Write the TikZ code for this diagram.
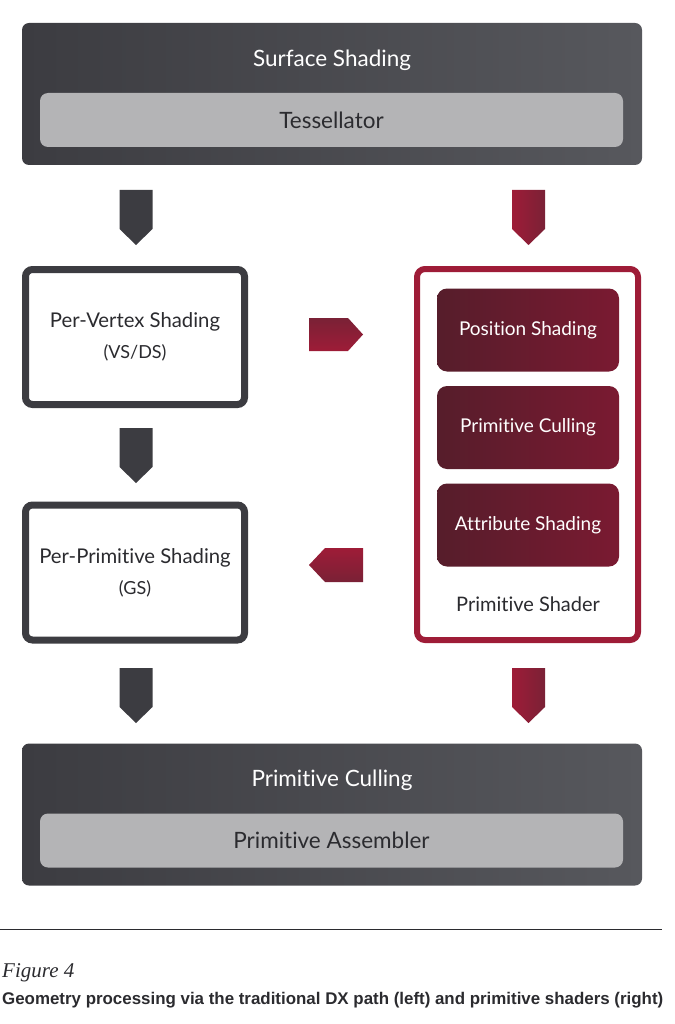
\documentclass[tikz,border=0pt]{standalone}
\usepackage{fontspec}
\setmainfont{Lato}[Ligatures=NoCommon]
\newfontfamily\capfont{Liberation Serif}
\newfontfamily\capsans{Liberation Sans}

\definecolor{slate}{HTML}{3C3C41}
\definecolor{slatelight}{HTML}{57585D}
\definecolor{barfill}{HTML}{B4B4B6}
\definecolor{wine}{HTML}{9E1C37}
\definecolor{winedeep}{HTML}{7A2136}
\definecolor{maroondark}{HTML}{561D2B}
\definecolor{maroonlight}{HTML}{7A1A31}
\definecolor{ink}{HTML}{2B2B2F}

\begin{document}
\begin{tikzpicture}[x=1pt, y=-1pt,
    stagebox/.style={rounded corners=7pt, left color=slate, right color=slatelight, minimum width=620pt, minimum height=142pt, inner sep=0pt},
    barbox/.style={rounded corners=8pt, fill=barfill, minimum width=583pt, minimum height=54pt, text=ink, font=\fontsize{22.5}{26}\selectfont},
    stagetitle/.style={text=white, font=\fontsize{22.5}{26}\selectfont},
    pathbox/.style={draw=slate, line width=7pt, rounded corners=7pt, fill=white, minimum width=219pt, minimum height=135pt, align=center, text=ink, font=\fontsize{20.3}{31}\selectfont},
    psbox/.style={draw=wine, line width=6pt, rounded corners=8pt, fill=white, minimum width=221pt, minimum height=371pt, inner sep=0pt},
    psstep/.style={rounded corners=10pt, left color=maroondark, right color=maroonlight, minimum width=182pt, minimum height=83pt, text=white, font=\fontsize{19}{22}\selectfont},
    tagdark/.style={fill=slate},
    tagred/.style={left color=wine, right color=winedeep},
    tagredright/.style={top color=winedeep, bottom color=wine},
    tagredleft/.style={top color=wine, bottom color=winedeep}]

    \useasboundingbox (0,0) rectangle (674,1024);

    % top stage
    \node[stagebox] (surface) at (332,94) {};
    \node[stagetitle] (surfacelbl) at (332,60) {Surface Shading};
    \node[barbox] (tess) at (331.5,120) {Tessellator};

    % traditional path (left)
    \node[pathbox] (vertex) at (135,337) {Per-Vertex Shading\\{\fontsize{18}{20}\selectfont(VS/DS)}};
    \node[pathbox] (prim) at (135,572.5) {Per-Primitive Shading\\{\fontsize{18}{20}\selectfont(GS)}};

    % primitive shader (right)
    \node[psbox] (shader) at (527.5,454.5) {};
    \node[psstep] (posshade) at (528,330) {Position Shading};
    \node[psstep] (cull) at (528,427.5) {Primitive Culling};
    \node[psstep] (attrshade) at (528,525) {Attribute Shading};
    \node[text=ink, font=\fontsize{20}{24}\selectfont] (shaderlbl) at (528,604) {Primitive Shader};

    % bottom stage
    \node[stagebox] (culling) at (332,814.5) {};
    \node[stagetitle] (cullinglbl) at (332,780) {Primitive Culling};
    \node[barbox] (assembler) at (331.5,840.5) {Primitive Assembler};

    % block arrows
    \coordinate (aL1) at (136,190);
    \coordinate (aL2) at (136,428);
    \coordinate (aL3) at (136,668);
    \coordinate (aR1) at (528.5,190);
    \coordinate (aR3) at (528.5,668);
    \coordinate (aH1) at (309,318);
    \coordinate (aH2) at (363,548);

    \path[tagdark] (aL1) ++(-16.5,0) -- ++(33,0) -- ++(0,39) -- ++(-16.5,16) -- ++(-16.5,-16) -- cycle;
    \path[tagdark] (aL2) ++(-16.5,0) -- ++(33,0) -- ++(0,39) -- ++(-16.5,16) -- ++(-16.5,-16) -- cycle;
    \path[tagdark] (aL3) ++(-16.5,0) -- ++(33,0) -- ++(0,39) -- ++(-16.5,16) -- ++(-16.5,-16) -- cycle;
    \path[tagred] (aR1) ++(-16.5,0) -- ++(33,0) -- ++(0,39) -- ++(-16.5,16) -- ++(-16.5,-16) -- cycle;
    \path[tagred] (aR3) ++(-16.5,0) -- ++(33,0) -- ++(0,39) -- ++(-16.5,16) -- ++(-16.5,-16) -- cycle;

    \path[tagredright] (aH1) -- ++(39,0) -- ++(15,16.5) -- ++(-15,16.5) -- ++(-39,0) -- cycle;
    \path[tagredleft] (aH2) -- ++(0,34) -- ++(-38,0) -- ++(-16,-17) -- ++(16,-17) -- cycle;

    % caption
    \draw[ink, line width=1pt] (0,929) -- (662,929);
    \node[anchor=base west, inner sep=0pt, text=ink, font=\capfont\itshape\fontsize{21}{24}\selectfont] (fig) at (2,977) {Figure 4};
    \node[anchor=base west, inner sep=0pt, text=ink, font=\capsans\bfseries\fontsize{16.9}{19}\selectfont] (caption) at (2,1004) {Geometry processing via the traditional DX path (left) and primitive shaders (right)};
\end{tikzpicture}
\end{document}
